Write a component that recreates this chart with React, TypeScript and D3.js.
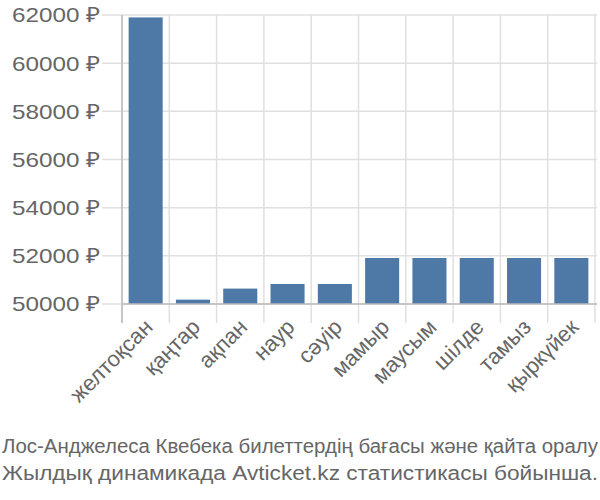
import React from "react";
import * as d3 from "d3";

const categories = ["желтоқсан", "қаңтар", "ақпан", "наур", "сәуір", "мамыр", "маусым", "шілде", "тамыз", "қыркүйек"];
const values = [61900, 50180, 50640, 50830, 50830, 51910, 51910, 51910, 51910, 51910];
const yTicks = [50000, 52000, 54000, 56000, 58000, 60000, 62000];
const captionLines = [
  "Лос-Анджелеса Квебека билеттердің бағасы және қайта оралу",
  "Жылдық динамикада Avticket.kz статистикасы бойынша.",
];

export default function App() {
  const W = 600, H = 500;
  const left = 122, right = 595, top = 15, bottom = 304;
  const x = d3.scaleBand().domain(categories).range([left, right]).paddingInner(0.28).paddingOuter(0.14);
  const xEdges = d3.scaleBand().domain(categories).range([left, right]);
  const y = d3.scaleLinear().domain([50000, 62000]).range([bottom, top]);
  const font = "'Liberation Sans', Arial, sans-serif";
  return (
    <svg width={W} height={H} style={{ position: "absolute", left: 0, top: 0 }} fontFamily={font}>
      {yTicks.map((t) => (
        <line key={"h" + t} x1={102} x2={597} y1={y(t)} y2={y(t)} stroke="#e0e0e0" strokeWidth={1.5} />
      ))}
      {categories.map((c) => (
        <line key={"v" + c} x1={xEdges(c) as number} x2={xEdges(c) as number} y1={top} y2={323} stroke="#e0e0e0" strokeWidth={1.5} />
      ))}
      <line x1={right} x2={right} y1={top} y2={323} stroke="#e0e0e0" strokeWidth={1.5} />
      {categories.map((c, i) => (
        <rect key={"b" + c} x={x(c)} y={y(values[i])} width={x.bandwidth()} height={bottom - y(values[i])} fill="#4e79a7" />
      ))}
      <line x1={left} x2={597} y1={bottom} y2={bottom} stroke="#bbb" strokeWidth={1.5} />
      <line x1={left} x2={left} y1={top} y2={323} stroke="#bbb" strokeWidth={1.5} />
      {yTicks.map((t) => (
        <text key={"yl" + t} x={100} y={y(t)} dy="0.35em" textAnchor="end" fontSize={21} fill="#666" textLength={88} lengthAdjust="spacingAndGlyphs">
          {t + " ₽"}
        </text>
      ))}
      {categories.map((c) => {
        const cx = (x(c) as number) + x.bandwidth() / 2 + 3;
        const cy = 323;
        return (
          <text key={"xl" + c} x={cx} y={cy} textAnchor="end" fontSize={22} fill="#666" transform={`rotate(-45 ${cx} ${cy})`} dy="0.35em">
            {c}
          </text>
        );
      })}
      {captionLines.map((l, i) => (
        <text key={"c" + i} x={300} y={453 + i * 27} textAnchor="middle" fontSize={20} fill="#666" textLength={596} lengthAdjust="spacingAndGlyphs">
          {l}
        </text>
      ))}
    </svg>
  );
}
